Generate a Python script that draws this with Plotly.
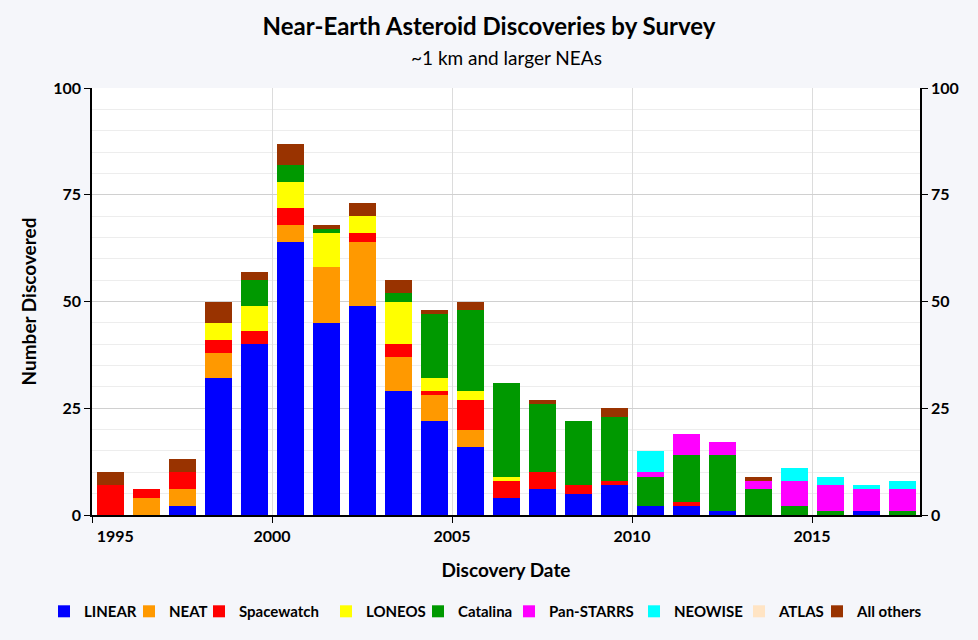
import plotly.graph_objects as go

# Discovery years (bars drawn at mid-year)
years = list(range(1995, 2018))

linear     = [0, 0, 2, 32, 40, 64, 45, 49, 29, 22, 16, 4, 6, 5, 7, 2, 2, 1, 0, 0, 0, 1, 0]
neat       = [0, 4, 4, 6, 0, 4, 13, 15, 8, 6, 4, 0, 0, 0, 0, 0, 0, 0, 0, 0, 0, 0, 0]
spacewatch = [7, 2, 4, 3, 3, 4, 0, 2, 3, 1, 7, 4, 4, 2, 1, 0, 1, 0, 0, 0, 0, 0, 0]
loneos     = [0, 0, 0, 4, 6, 6, 8, 4, 10, 3, 2, 1, 0, 0, 0, 0, 0, 0, 0, 0, 0, 0, 0]
catalina   = [0, 0, 0, 0, 6, 4, 1, 0, 2, 15, 19, 22, 16, 15, 15, 7, 11, 13, 6, 2, 1, 0, 1]
panstarrs  = [0, 0, 0, 0, 0, 0, 0, 0, 0, 0, 0, 0, 0, 0, 0, 1, 5, 3, 2, 6, 6, 5, 5]
neowise    = [0, 0, 0, 0, 0, 0, 0, 0, 0, 0, 0, 0, 0, 0, 0, 5, 0, 0, 0, 3, 2, 1, 2]
atlas      = [0] * 23
others     = [3, 0, 3, 5, 2, 5, 1, 3, 3, 1, 2, 0, 1, 0, 2, 0, 0, 0, 1, 0, 0, 0, 0]

series = [
    ("LINEAR", linear, "#0000FF"),
    ("NEAT", neat, "#FF9900"),
    ("Spacewatch", spacewatch, "#FF0000"),
    ("LONEOS", loneos, "#FFFF00"),
    ("Catalina", catalina, "#009900"),
    ("Pan-STARRS", panstarrs, "#FF00FF"),
    ("NEOWISE", neowise, "#00FFFF"),
    ("ATLAS", atlas, "#FFE4C4"),
    ("All others", others, "#993300"),
]

# legend entry widths (px) so the legend sits on one row like the original
legend_widths = [40, 25, 82, 47, 46, 80, 60, 33, 75]

y_ticks = [0, 25, 50, 75, 100]
x_ticks = [1995, 2000, 2005, 2010, 2015]
# first label sits to the right of its tick, as in the original
x_ticktext = ["\u00a0" * 12 + "1995", "2000", "2005", "2010", "2015"]

xs = [y + 0.5 for y in years]

fig = go.Figure()
for (name, vals, color), lw in zip(series, legend_widths):
    fig.add_trace(go.Bar(x=xs, y=vals, name=name, legendwidth=lw,
                         marker=dict(color=color, line=dict(width=0))))

# dummy trace so the right-hand axis gets drawn
fig.add_trace(go.Scatter(x=[xs[0]], y=[0], yaxis="y2", mode="markers",
                         marker=dict(opacity=0), showlegend=False, hoverinfo="skip"))

font = "Lato, 'Open Sans', sans-serif"

fig.update_layout(
    width=978, height=640,
    barmode="stack",
    bargap=0.25,
    paper_bgcolor="#F5F6FA",
    plot_bgcolor="white",
    font=dict(family=font, color="black"),
    margin=dict(l=92, r=58, t=88, b=123),
    title=dict(
        text="<b>Near-Earth Asteroid Discoveries by Survey</b>",
        x=0.5, xanchor="center", y=1 - 27 / 640, yanchor="middle",
        font=dict(size=24, family=font),
    ),
    xaxis=dict(
        range=[1995, 2018],
        tickvals=x_ticks,
        ticktext=x_ticktext,
        ticks="outside", ticklen=6, tickcolor="black",
        showline=True, linecolor="black", linewidth=1.5,
        showgrid=True, gridcolor="#DCDCDC", gridwidth=1,
        zeroline=False, automargin=False,
        tickfont=dict(size=16, family=font, weight="bold"),
        title=dict(text="<b>Discovery Date</b>", font=dict(size=19), standoff=20),
    ),
    yaxis=dict(
        range=[0, 100],
        tickvals=y_ticks,
        ticks="outside", ticklen=6, tickcolor="black",
        showline=True, linecolor="black", linewidth=1.5,
        showgrid=True, gridcolor="#D0D0D0", gridwidth=1,
        minor=dict(dtick=5, showgrid=True, gridcolor="#EDEDED", gridwidth=1),
        zeroline=False, automargin=False,
        tickfont=dict(size=16, family=font, weight="bold"),
        title=dict(text="<b>Number Discovered</b>", font=dict(size=19), standoff=12),
    ),
    yaxis2=dict(
        overlaying="y", side="right",
        range=[0, 100],
        tickvals=y_ticks,
        ticks="outside", ticklen=6, tickcolor="black",
        showline=True, linecolor="black", linewidth=1.5,
        showgrid=False, zeroline=False, automargin=False,
        tickfont=dict(size=16, family=font, weight="bold"),
    ),
    legend=dict(
        orientation="h",
        traceorder="normal",
        x=(44 - 92) / 828, xanchor="left",
        y=-(614 - 517) / 429, yanchor="middle",
        font=dict(size=15, family=font, weight="bold"),
        bgcolor="rgba(0,0,0,0)",
        itemwidth=30,
        tracegroupgap=0,
    ),
    annotations=[
        dict(text="~1 km and larger NEAs", xref="paper", yref="paper",
             x=0.5, y=1 + (88 - 57) / 429, xanchor="center", yanchor="middle",
             showarrow=False, font=dict(size=19, family=font)),
    ],
)

fig.write_html("out.html", config={"displayModeBar": False},
               post_script="document.body.style.margin='0px';")
